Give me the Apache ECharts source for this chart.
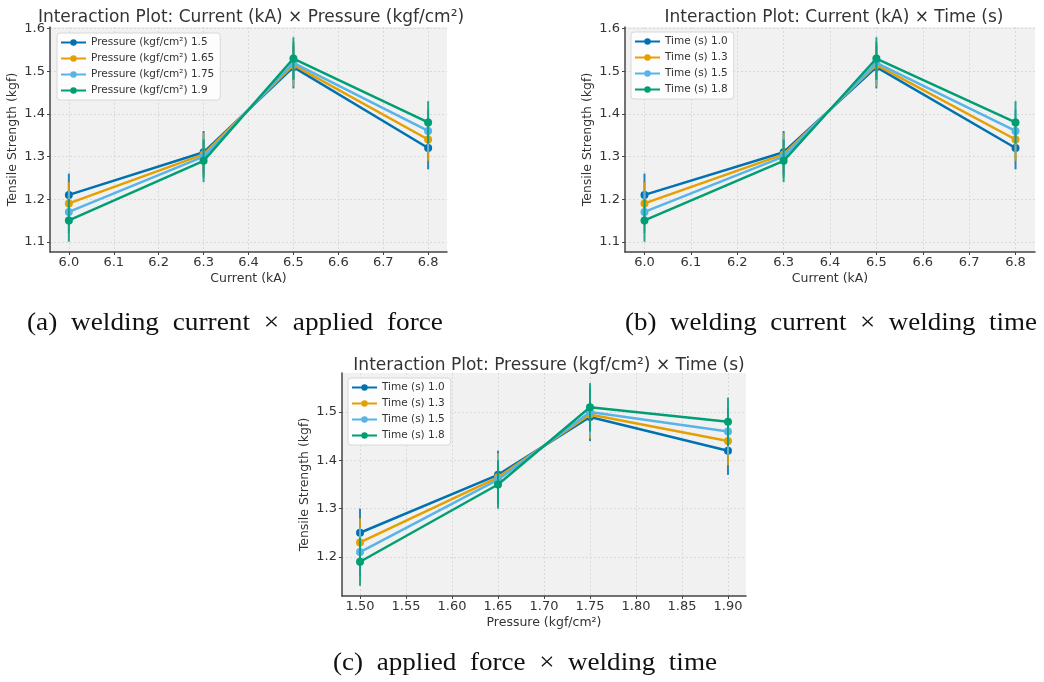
<!DOCTYPE html>
<html>
<head>
<meta charset="utf-8">
<script src="https://cdn.jsdelivr.net/npm/echarts@6/dist/echarts.min.js"></script>
<style>
  html, body { margin: 0; padding: 0; background: #fff; }
  #main { width: 1044px; height: 682px; }
</style>
</head>
<body>
<div id="main"></div>
<script>
// 电流 (kA) 与压力 / 时间 的交互图数据
var currentX = [6.0, 6.3, 6.5, 6.8];
var pressureX = [1.50, 1.65, 1.75, 1.90];

// (a) / (b): current levels
var curLevel1 = [1.21, 1.31, 1.51, 1.32];
var curLevel2 = [1.19, 1.305, 1.515, 1.34];
var curLevel3 = [1.17, 1.30, 1.52, 1.36];
var curLevel4 = [1.15, 1.29, 1.53, 1.38];

// (c): pressure levels
var presLevel1 = [1.25, 1.37, 1.49, 1.42];
var presLevel2 = [1.23, 1.365, 1.495, 1.44];
var presLevel3 = [1.21, 1.36, 1.50, 1.46];
var presLevel4 = [1.19, 1.35, 1.51, 1.48];

// error bar half length
var errAll = [0.05, 0.05, 0.05, 0.05];

var pressureNames = ['Pressure (kgf/cm²) 1.5', 'Pressure (kgf/cm²) 1.65', 'Pressure (kgf/cm²) 1.75', 'Pressure (kgf/cm²) 1.9'];
var timeNames = ['Time (s) 1.0', 'Time (s) 1.3', 'Time (s) 1.5', 'Time (s) 1.8'];

// tick labels
var currentTicks = [6.0, 6.1, 6.2, 6.3, 6.4, 6.5, 6.6, 6.7, 6.8];
var pressureTicks = [1.50, 1.55, 1.60, 1.65, 1.70, 1.75, 1.80, 1.85, 1.90];
var strengthTicksAB = [1.1, 1.2, 1.3, 1.4, 1.5, 1.6];
var strengthTicksC = [1.2, 1.3, 1.4, 1.5];

var colors = ['#0072B2', '#E69F00', '#56B4E9', '#009E73'];
var sans = 'DejaVu Sans';

var chart = echarts.init(document.getElementById('main'));

function xAxisOf(gridIndex, min, max, ticks, name, digits){
	return {
		type: 'value', gridIndex: gridIndex, min: min, max: max,
		name: name, nameLocation: 'middle', nameGap: 20,
		nameTextStyle: { color: '#333', fontSize: 12.5, fontFamily: sans },
		axisLine: { lineStyle: { color: '#444', width: 1.5 } },
		axisTick: { customValues: ticks, length: 3, lineStyle: { color: '#444' } },
		axisLabel: { customValues: ticks, color: '#333', fontSize: 13, fontFamily: sans, margin: 4,
			formatter: function(v){ return v.toFixed(digits); } },
		splitLine: { show: true, lineStyle: { color: '#d9d9d9', type: [2, 2], width: 1 } }
	};
}

function yAxisOf(gridIndex, min, max, ticks){
	return {
		type: 'value', gridIndex: gridIndex, min: min, max: max,
		name: 'Tensile Strength (kgf)', nameLocation: 'middle', nameGap: 31,
		nameTextStyle: { color: '#333', fontSize: 12.5, fontFamily: sans },
		axisLine: { show: true, lineStyle: { color: '#444', width: 1.5 } },
		axisTick: { show: true, customValues: ticks, length: 3, lineStyle: { color: '#444' } },
		axisLabel: { customValues: ticks, color: '#333', fontSize: 13, fontFamily: sans, margin: 5,
			formatter: function(v){ return v.toFixed(1); } },
		splitLine: { show: true, lineStyle: { color: '#d9d9d9', type: [2, 2], width: 1 } }
	};
}

function errRender(color){
	return function(params, api){
		var x = api.value(0), y = api.value(1), e = api.value(2);
		var p1 = api.coord([x, y - e]), p2 = api.coord([x, y + e]);
		return {
			type: 'line',
			shape: { x1: p1[0], y1: p1[1], x2: p2[0], y2: p2[1] },
			style: { stroke: color, lineWidth: 2, opacity: 0.85 }
		};
	};
}

var series = [];
function addPanel(idx, xs, levels, names){
	levels.forEach(function(ys, i){
		series.push({
			name: names[i], type: 'line', xAxisIndex: idx, yAxisIndex: idx,
			data: xs.map(function(x, k){ return [x, ys[k]]; }),
			symbol: 'circle', symbolSize: 8, z: 10 + i * 2,
			itemStyle: { color: colors[i] },
			lineStyle: { color: colors[i], width: 2.5 },
			animation: false
		});
		series.push({
			name: 'err' + idx + '_' + i, type: 'custom', xAxisIndex: idx, yAxisIndex: idx,
			data: xs.map(function(x, k){ return [x, ys[k], errAll[k]]; }),
			renderItem: errRender(colors[i]), z: 11 + i * 2, silent: true,
			encode: { x: 0, y: 1 }, animation: false
		});
	});
}
addPanel(0, currentX, [curLevel1, curLevel2, curLevel3, curLevel4], pressureNames);
addPanel(1, currentX, [curLevel1, curLevel2, curLevel3, curLevel4], timeNames);
addPanel(2, pressureX, [presLevel1, presLevel2, presLevel3, presLevel4], timeNames);

function legendOf(left, top, names){
	return {
		left: left, top: top, orient: 'vertical', data: names,
		itemWidth: 25, itemHeight: 8, itemGap: 5,
		padding: [4, 6, 4, 3],
		backgroundColor: 'rgba(255,255,255,0.85)', borderColor: '#d8d8d8', borderWidth: 1, borderRadius: 3,
		textStyle: { color: '#333', fontSize: 10.5, fontFamily: sans },
		selectedMode: false
	};
}

function titleOf(text, cx, top){
	return {
		text: text, left: cx, top: top, textAlign: 'center',
		textStyle: { color: '#333', fontSize: 17, fontWeight: 'normal', fontFamily: sans }
	};
}

// 图注：宽松字距，按参考图宽度横向拉伸
var captionFont = '26px "Liberation Serif"';
function caption(text, x, y, width){
	var natural = new echarts.graphic.Text({ style: { text: text, font: captionFont } }).getBoundingRect().width;
	return {
		type: 'text', x: x, y: y, scaleX: width / natural,
		style: { text: text, fill: '#111', font: captionFont, verticalAlign: 'middle' }
	};
}

chart.setOption({
	backgroundColor: '#fff',
	title: [
		titleOf('Interaction Plot: Current (kA) × Pressure (kgf/cm²)', 246, 4),
		titleOf('Interaction Plot: Current (kA) × Time (s)', 829, 4),
		titleOf('Interaction Plot: Pressure (kgf/cm²) × Time (s)', 544, 352)
	],
	legend: [
		legendOf(57, 33, pressureNames),
		legendOf(631, 32, timeNames),
		legendOf(348, 378, timeNames)
	],
	grid: [
		{ left: 50, top: 27, width: 397, height: 225, show: true, backgroundColor: '#f1f1f1', borderWidth: 0 },
		{ left: 625, top: 27, width: 410, height: 225, show: true, backgroundColor: '#f1f1f1', borderWidth: 0 },
		{ left: 342, top: 373, width: 404, height: 223, show: true, backgroundColor: '#f1f1f1', borderWidth: 0 }
	],
	xAxis: [
		xAxisOf(0, 5.958, 6.842, currentTicks, 'Current (kA)', 1),
		xAxisOf(1, 5.958, 6.842, currentTicks, 'Current (kA)', 1),
		xAxisOf(2, 1.4804, 1.9196, pressureTicks, 'Pressure (kgf/cm²)', 2)
	],
	yAxis: [
		yAxisOf(0, 1.076, 1.604, strengthTicksAB),
		yAxisOf(1, 1.076, 1.604, strengthTicksAB),
		yAxisOf(2, 1.119, 1.581, strengthTicksC)
	],
	series: series,
	graphic: [
		caption('(a)  welding  current  ×  applied  force', 27, 323, 416),
		caption('(b)  welding  current  ×  welding  time', 625, 323, 412),
		caption('(c)  applied  force  ×  welding  time', 333, 663, 384)
	]
});
</script>
</body>
</html>
